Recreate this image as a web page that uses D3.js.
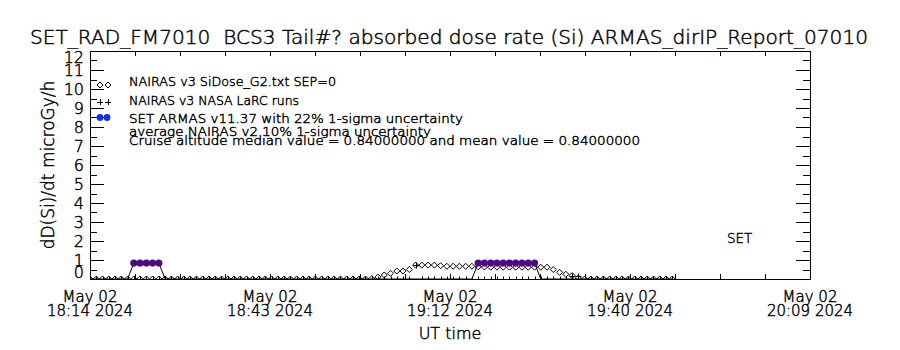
<!DOCTYPE html>
<html>
<head>
<meta charset="utf-8">
<script src="https://cdn.jsdelivr.net/npm/d3@7"></script>
<style>
  html, body { margin: 0; padding: 0; background: #fff; }
  svg { display: block; }
  text { font-family: "DejaVu Sans", "Liberation Sans", sans-serif; font-weight: 200; fill: #000; stroke: #000; stroke-width: 0.45px; white-space: pre; }
</style>
</head>
<body>
<svg id="chart" width="900" height="350"></svg>
<script>
// ---- data -------------------------------------------------------------
const titleText = "SET_RAD_FM7010  BCS3 Tail#? absorbed dose rate (Si) ARMAS_dirIP_Report_07010";
const yTitle = "dD(Si)/dt microGy/h";
const xTitle = "UT time";

// one sample per minute starting 18:14 UT
const startTime = "2024-05-02T18:14:00Z";
const spanMinutes = 115;

// NAIRAS v3 SiDose_G2 (diamonds), microGy/h
const nairasSiDose = [
  0,0,0,0,0,0,0,0,0,0, 0,0,0,0,0,0,0,0,0,0,
  0,0,0,0,0,0,0,0,0,0, 0,0,0,0,0,0,0,0,0,0,
  0,0,0,0,0,0.02,0.1,0.21,0.3,0.42, 0.42,0.5,0.73,0.73,0.73,0.73,0.7,0.67,0.67,0.67,
  0.67,0.67,0.64,0.63,0.62,0.62,0.62,0.62,0.62,0.62, 0.62,0.62,0.62,0.62,0.5,0.35,0.25,0.18,0.05,0,
  0,0,0,0,0,0,0,0,0,0, 0,0,0,0
];

// NAIRAS v3 NASA LaRC runs (plus signs)
const nairasLaRC = [
  0,0,0,0,0,0,0,0,0,0, 0,0,0,0,0,0,0,0,0,0,
  0,0,0,0,0,0,0,0,0,0, 0,0,0,0,0,0,0,0,0,0,
  0,0,0,0,0,0,0,0,0,0, 0,0,0.72,0,0,0,0,0,0,0,
  0,0,0,0,0,0,0,0,0,0, 0,0,0,0,0,0,0,0.15,0.15,0,
  0,0,0,0,0,0,0,0,0,0, 0,0,0,0
];

// SET ARMAS v11.37 dose rate (line + filled circles where measured)
const armas = [
  0,0,0,0,0,0,0,0.84,0.84,0.84, 0.84,0.84,0,0,0,0,0,0,0,0,
  0,0,0,0,0,0,0,0,0,0, 0,0,0,0,0,0,0,0,0,0,
  0,0,0,0,0,0,0,0,0,0, 0,0,0,0,0,0,0,0,0,0,
  0,0,0.84,0.84,0.84,0.84,0.84,0.84,0.84,0.84, 0.84,0.84,0,0,0,0,0,0,0,0,
  0,0,0,0,0,0,0,0,0,0, 0,0,0,0
];

const yTicks = [0,1,2,3,4,5,6,7,8,9,10,11,12];
const xTickLabels = [
  ["May 02", "18:14 2024"],
  ["May 02", "18:43 2024"],
  ["May 02", "19:12 2024"],
  ["May 02", "19:40 2024"],
  ["May 02", "20:09 2024"]
];
const legendLabels = [
  "NAIRAS v3 SiDose_G2.txt SEP=0",
  "NAIRAS v3 NASA LaRC runs",
  "SET ARMAS v11.37 with 22% 1-sigma uncertainty"
];
const noteLines = [
  "average NAIRAS v2 10% 1-sigma uncertainty",
  "Cruise altitude median value = 0.84000000 and mean value = 0.84000000"
];
const tagText = "SET";

// ---- layout -----------------------------------------------------------
const svg = d3.select("#chart");
const L = 90, R = 810, T = 51, B = 279;
const t0 = new Date(startTime);
const t1 = d3.timeMinute.offset(t0, spanMinutes);
const x = d3.scaleTime().domain([t0, t1]).range([L, R]);
const y = d3.scaleLinear().domain([0, 12]).range([B, T]);
const timeAt = i => d3.timeMinute.offset(t0, i);

const purple = "#4e0a85";
const blue = "#1030f0";

// clip for data marks
svg.append("defs").append("clipPath").attr("id", "plotclip")
  .append("rect").attr("x", L).attr("y", T).attr("width", R - L).attr("height", B - T);

// ---- title ------------------------------------------------------------
svg.append("text").attr("x", 30).attr("y", 44)
  .attr("font-size", 19).attr("textLength", 838).attr("lengthAdjust", "spacingAndGlyphs")
  .text(titleText);

// ---- axes ---------------------------------------------------------------
const axisG = svg.append("g").attr("stroke", "#000").attr("stroke-width", 1).attr("fill", "none");
axisG.append("rect").attr("x", L + 0.5).attr("y", T + 0.5).attr("width", R - L).attr("height", B - T);

// x ticks: 16 intervals, major every 4th
const xTickTimes = d3.range(17).map(k => new Date(+t0 + k * (+t1 - +t0) / 16));
xTickTimes.forEach(t => {
  const px = Math.round(x(t)) + 0.5;
  axisG.append("line").attr("x1", px).attr("x2", px).attr("y1", B).attr("y2", B - 5);
  axisG.append("line").attr("x1", px).attr("x2", px).attr("y1", T).attr("y2", T + 5);
});

// y ticks: majors at integers, minors at halves
yTicks.forEach(v => {
  const py = Math.round(y(v)) + 0.5;
  axisG.append("line").attr("x1", L).attr("x2", L + 14).attr("y1", py).attr("y2", py);
  axisG.append("line").attr("x1", R).attr("x2", R - 14).attr("y1", py).attr("y2", py);
  if (v < 12) {
    const pm = Math.round(y(v + 0.5)) + 0.5;
    axisG.append("line").attr("x1", L).attr("x2", L + 7).attr("y1", pm).attr("y2", pm);
    axisG.append("line").attr("x1", R).attr("x2", R - 7).attr("y1", pm).attr("y2", pm);
  }
});

// y tick labels, centred on their ticks but kept inside the frame at the ends
svg.append("g").selectAll("text").data(yTicks).join("text")
  .attr("x", 84).attr("y", d => Math.min(B - 6.5, Math.max(T + 6.5, y(d))) + 5.8)
  .attr("text-anchor", "end").attr("font-size", 16)
  .text(d => d);

// x tick labels under the major ticks
const majorTimes = xTickTimes.filter((d, k) => k % 4 === 0);
const xl = svg.append("g").selectAll("g").data(majorTimes).join("g");
xl.append("text").attr("x", d => x(d)).attr("y", 302)
  .attr("text-anchor", "middle").attr("font-size", 15)
  .text((d, k) => xTickLabels[k][0]);
xl.append("text").attr("x", d => x(d)).attr("y", 316)
  .attr("text-anchor", "middle").attr("font-size", 15)
  .text((d, k) => xTickLabels[k][1]);

// axis titles
svg.append("text").attr("x", 450).attr("y", 339).attr("text-anchor", "middle")
  .attr("font-size", 16).text(xTitle);
svg.append("text").attr("transform", "translate(54,165) rotate(-90)")
  .attr("text-anchor", "middle").attr("font-size", 17).text(yTitle);

// ---- data marks ---------------------------------------------------------
const plot = svg.append("g").attr("clip-path", "url(#plotclip)");

// NAIRAS SiDose diamonds
const dia = 3;
plot.append("g").selectAll("path").data(nairasSiDose).join("path")
  .attr("d", (d, i) => {
    const cx = x(timeAt(i)), cy = y(d);
    return `M${cx},${cy - dia}L${cx + dia},${cy}L${cx},${cy + dia}L${cx - dia},${cy}Z`;
  })
  .attr("fill", "none").attr("stroke", "#000").attr("stroke-width", 1);

// NAIRAS LaRC pluses
const pl = 3;
plot.append("g").selectAll("path").data(nairasLaRC).join("path")
  .attr("d", (d, i) => {
    const cx = Math.round(x(timeAt(i))) + 0.5, cy = Math.round(y(d)) + 0.5;
    return `M${cx - pl},${cy}H${cx + pl}M${cx},${cy - pl}V${cy + pl}`;
  })
  .attr("fill", "none").attr("stroke", "#000").attr("stroke-width", 1);

// ARMAS line
const line = d3.line().x((d, i) => x(timeAt(i))).y(d => y(d));
plot.append("path").datum(armas).attr("d", line)
  .attr("fill", "none").attr("stroke", "#000").attr("stroke-width", 1);

// ARMAS filled circles where a dose was measured
plot.append("g").selectAll("circle")
  .data(armas.map((v, i) => ({ v, i })).filter(d => d.v > 0))
  .join("circle")
  .attr("cx", d => x(timeAt(d.i))).attr("cy", d => y(d.v)).attr("r", 3.6)
  .attr("fill", purple);

// ---- legend -------------------------------------------------------------
const legY = [81, 100, 118];
const lg = svg.append("g");
[100, 108].forEach(cx => {
  lg.append("path")
    .attr("d", `M${cx},${legY[0] + 4 - dia}L${cx + dia},${legY[0] + 4}L${cx},${legY[0] + 4 + dia}L${cx - dia},${legY[0] + 4}Z`)
    .attr("fill", "none").attr("stroke", "#000");
  lg.append("path")
    .attr("d", `M${cx - pl},${legY[1] + 2.5}H${cx + pl}M${cx + 0.5},${legY[1] - 1}V${legY[1] + 5}`)
    .attr("fill", "none").attr("stroke", "#000");
});
lg.append("line").attr("x1", 97).attr("x2", 110).attr("y1", legY[2] - 0.5).attr("y2", legY[2] - 0.5)
  .attr("stroke", blue);
[100, 107].forEach(cx => {
  lg.append("circle").attr("cx", cx).attr("cy", legY[2] - 0.5).attr("r", 3.4).attr("fill", blue);
});
const legW = [207, 170, 334];
legendLabels.forEach((s, k) => {
  lg.append("text").attr("x", 129).attr("y", legY[k] + 4.5)
    .attr("font-size", 12.5).attr("textLength", legW[k]).attr("lengthAdjust", "spacingAndGlyphs")
    .text(s);
});
const noteY = [136, 145];
const noteW = [302, 511];
noteLines.forEach((s, k) => {
  lg.append("text").attr("x", 129).attr("y", noteY[k])
    .attr("font-size", 12.5).attr("textLength", noteW[k]).attr("lengthAdjust", "spacingAndGlyphs")
    .text(s);
});

svg.append("text").attr("x", 727).attr("y", 243).attr("font-size", 13.5).text(tagText);
</script>
</body>
</html>
